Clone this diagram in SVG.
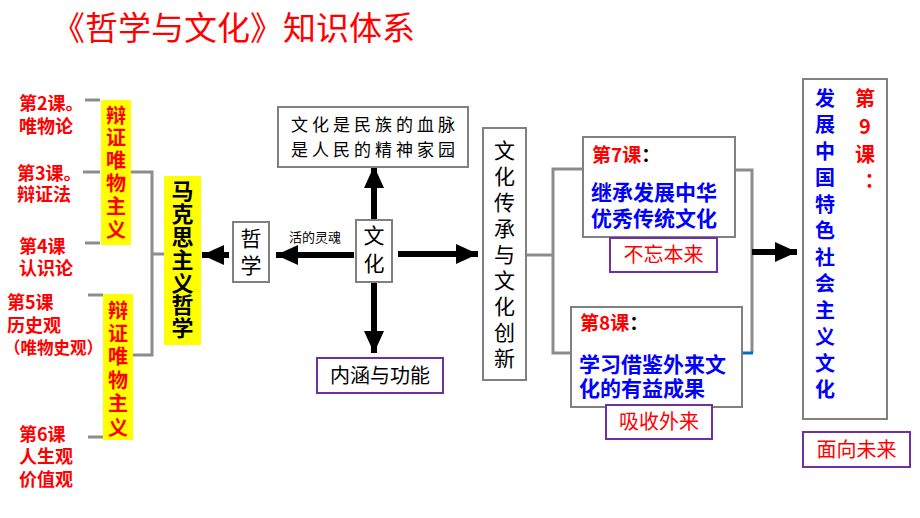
<svg xmlns="http://www.w3.org/2000/svg" width="920" height="518" viewBox="0 0 920 518">
<style>
text{font-family:"Noto Sans CJK SC","Liberation Sans",sans-serif}
.lbl{fill:#ff0000;font-weight:bold;font-size:18px}
.yb{fill:#ffff00}
.red{fill:#ff0000}
.blue{fill:#0000ff}
.v{writing-mode:vertical-rl;text-orientation:upright}
.box{fill:#fff;stroke:#808080;stroke-width:2}
.pbox{fill:#fff;stroke:#7030a0;stroke-width:2}
.conn{stroke:#8c8c8c;stroke-width:3;fill:none}
.arr{stroke:#000;stroke-width:6;fill:none;marker-end:url(#ah)}
</style>
<defs>
<marker id="ah" markerUnits="userSpaceOnUse" markerWidth="24" markerHeight="20" refX="22" refY="10" orient="auto">
<path d="M0,0 L22,10 L0,20 z" fill="#000"/>
</marker>
</defs>
<rect width="920" height="518" fill="#fff"/>
<text x="52" y="40" font-size="33" fill="#ff0000">《哲学与文化》知识体系</text>

<g id="connectors">
<line class="conn" x1="85" y1="100" x2="100" y2="100"/>
<line class="conn" x1="83" y1="172" x2="100" y2="172"/>
<line class="conn" x1="85" y1="243" x2="100" y2="243"/>
<line class="conn" x1="88" y1="295" x2="103" y2="295"/>
<line class="conn" x1="88" y1="437" x2="103" y2="437"/>
<polyline class="conn" points="131,172 152,172 152,355 133,355"/>
<line class="conn" x1="152" y1="254" x2="165" y2="254"/>
<line class="arr" x1="229" y1="255" x2="202" y2="255"/>
<line class="arr" x1="354" y1="255" x2="276" y2="255"/>
<line class="arr" x1="374" y1="220" x2="374" y2="166"/>
<line class="arr" x1="374" y1="283" x2="374" y2="353"/>
<line class="arr" x1="398" y1="254" x2="478" y2="254"/>
<polyline class="conn" points="526,255 553,255"/>
<polyline class="conn" points="583,169 553,169 553,353 571,353"/>
<polyline class="conn" points="735,170 752,170 752,353"/>
<line x1="742" y1="353" x2="753" y2="353" stroke="#0070c0" stroke-width="3"/>
<line class="arr" x1="752" y1="252" x2="797" y2="252"/>
<text x="315" y="242" font-size="13" text-anchor="middle" fill="#000">活的灵魂</text>
</g>

<g id="l2"><text class="lbl" x="19" y="110">第2课。</text><text class="lbl" x="19" y="133">唯物论</text></g>
<g id="l3"><text class="lbl" x="17" y="180">第3课。</text><text class="lbl" x="17" y="201">辩证法</text></g>
<g id="l4"><text class="lbl" x="19" y="253">第4课</text><text class="lbl" x="19" y="275">认识论</text></g>
<g id="l5"><text class="lbl" x="7" y="309">第5课</text><text class="lbl" x="7" y="332">历史观</text><text class="lbl" x="4" y="354" style="font-size:16.5px">（唯物史观）</text></g>
<g id="l6"><text class="lbl" x="19" y="441">第6课</text><text class="lbl" x="19" y="463">人生观</text><text class="lbl" x="19" y="486">价值观</text></g>

<g id="dm1">
<rect class="yb" x="101" y="100" width="30" height="145"/>
<text class="red v" x="116" y="105" font-size="20" font-weight="bold" letter-spacing="2.8">辩证唯物主义</text>
</g>
<g id="dm2">
<rect class="yb" x="103" y="294" width="30" height="146"/>
<text class="red v" x="118" y="300" font-size="20" font-weight="bold" letter-spacing="3.4">辩证唯物主义</text>
</g>
<g id="mks">
<rect class="yb" x="164" y="176" width="37" height="169"/>
<text class="v" x="182.5" y="180" font-size="22" font-weight="bold" letter-spacing="0.8" fill="#000">马克思主义哲学</text>
</g>
<g id="zx">
<rect class="box" x="233" y="222" width="36" height="60"/>
<text class="v" x="251" y="227.5" font-size="21" letter-spacing="6" fill="#000">哲学</text>
</g>
<g id="wh">
<rect class="box" x="356" y="220" width="36" height="62"/>
<text class="v" x="374" y="224.5" font-size="21" letter-spacing="7" fill="#000">文化</text>
</g>
<g id="xm">
<rect class="box" x="278" y="107" width="190" height="60"/>
<text font-size="17" text-anchor="middle" fill="#000" letter-spacing="4"><tspan x="375" y="131">文化是民族的血脉</tspan><tspan x="375" y="156">是人民的精神家园</tspan></text>
</g>
<g id="nh">
<rect class="pbox" x="317" y="358" width="126" height="35"/>
<text x="380" y="383" font-size="20" text-anchor="middle" fill="#000">内涵与功能</text>
</g>
<g id="cc">
<rect class="box" x="483" y="128" width="43" height="252"/>
<text class="v" x="504.5" y="139.5" font-size="21" letter-spacing="5" fill="#000">文化传承与文化创新</text>
</g>
<g id="k7">
<rect class="box" x="583" y="137" width="152" height="100"/>
<text x="592" y="162" font-size="19" font-weight="bold"><tspan class="red">第7课</tspan><tspan fill="#000">：</tspan></text>
<text class="blue" x="591" y="200" font-size="21" font-weight="bold">继承发展中华</text>
<text class="blue" x="591" y="226" font-size="21" font-weight="bold">优秀传统文化</text>
</g>
<g id="bw">
<rect class="pbox" x="610" y="238" width="107" height="34"/>
<text class="red" x="663.5" y="262" font-size="20" text-anchor="middle">不忘本来</text>
</g>
<g id="k8">
<rect class="box" x="571" y="307" width="171" height="100"/>
<text x="580" y="330" font-size="19" font-weight="bold"><tspan class="red">第8课</tspan><tspan fill="#000">：</tspan></text>
<text class="blue" x="579" y="372" font-size="21" font-weight="bold">学习借鉴外来文</text>
<text class="blue" x="579" y="396" font-size="21" font-weight="bold">化的有益成果</text>
</g>
<g id="xs">
<rect class="pbox" x="606" y="405" width="106" height="34"/>
<text class="red" x="659" y="429" font-size="20" text-anchor="middle">吸收外来</text>
</g>
<g id="k9">
<rect class="box" x="803" y="79" width="84" height="340"/>
<text class="blue v" x="825" y="88" font-size="20" font-weight="bold" letter-spacing="6.5">发展中国特色社会主义文化</text>
<text class="red v" x="865" y="88" font-size="20" font-weight="bold" letter-spacing="8">第9课：</text>
</g>
<g id="mx">
<rect class="pbox" x="803" y="432" width="107" height="35"/>
<text class="red" x="856.5" y="457" font-size="20" text-anchor="middle">面向未来</text>
</g>
</svg>
